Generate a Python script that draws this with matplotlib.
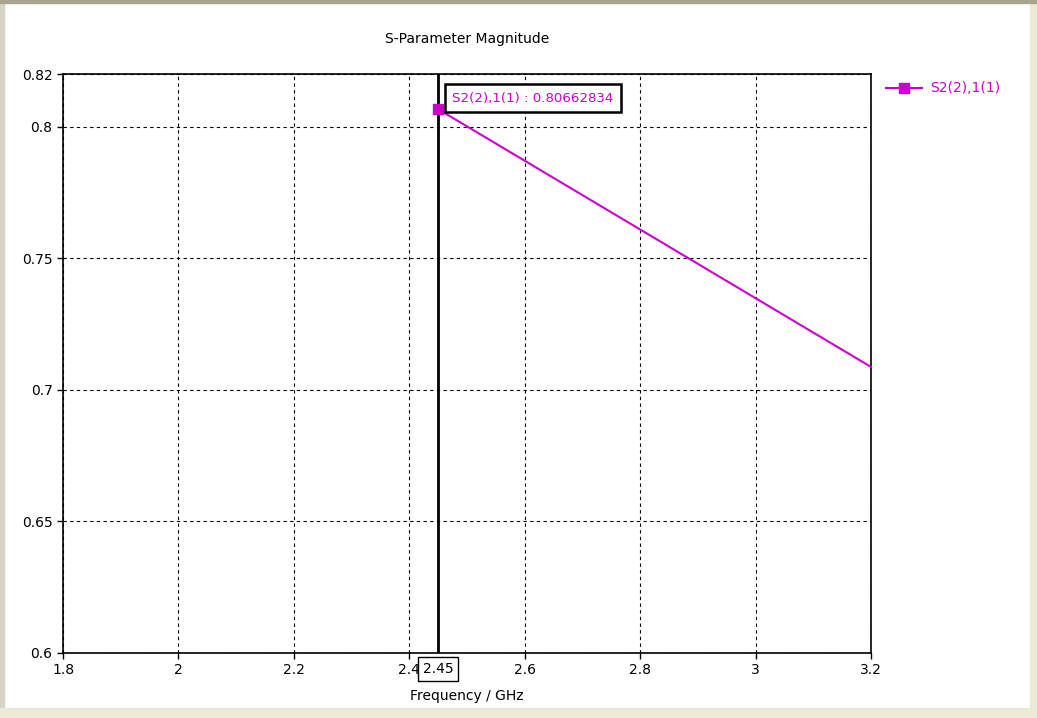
import matplotlib
matplotlib.use("Agg")
import matplotlib.pyplot as plt
from matplotlib.patches import Rectangle

freq = [2.45, 3.2]
s21 = [0.80662834, 0.7087]
marker_freq = 2.45
marker_val = 0.80662834
xticks = [1.8, 2.0, 2.2, 2.4, 2.6, 2.8, 3.0, 3.2]
xticklabels = ["1.8", "2", "2.2", "2.4", "2.6", "2.8", "3", "3.2"]
yticks = [0.6, 0.65, 0.7, 0.75, 0.8, 0.82]
yticklabels = ["0.6", "0.65", "0.7", "0.75", "0.8", "0.82"]

col = "#cc00cc"
plt.rcParams['font.family'] = ['DejaVu Sans']
fig = plt.figure(figsize=(10.37, 7.18), dpi=100, facecolor="white")
# window borders
fig.patches.append(Rectangle((0, 0), 4/1037, 1, transform=fig.transFigure, color="#d8d4c4", zorder=0))
fig.patches.append(Rectangle((1030/1037, 0), 7/1037, 1, transform=fig.transFigure, color="#ece9d8", zorder=0))
fig.patches.append(Rectangle((0, 0), 1, 10/718, transform=fig.transFigure, color="#ece9d8", zorder=0))
fig.patches.append(Rectangle((0, 715/718), 1, 3/718, transform=fig.transFigure, color="#a8a490", zorder=0))

ax = fig.add_axes([63/1037, 1-653/718, (871-63)/1037, (653-74)/718])
ax.set_xlim(1.8, 3.2)
ax.set_ylim(0.6, 0.82)
ax.set_xticks(xticks)
ax.set_xticklabels(xticklabels)
ax.set_yticks(yticks)
ax.set_yticklabels(yticklabels)
ax.grid(True, color="black", linestyle=(0, (3, 3)), linewidth=0.8)
for s in ax.spines.values():
    s.set_linewidth(1.2)
ax.tick_params(direction="out", length=4, labelsize=10, width=1)

ax.plot(freq, s21, color=col, linewidth=1.5, clip_on=False, zorder=3)
ax.axvline(marker_freq, color="black", linewidth=2, zorder=4)
ax.plot([marker_freq], [marker_val], marker="s", color=col, markersize=7, zorder=5, clip_on=False)
ax.annotate(f"S2(2),1(1) : {marker_val:.8f}", xy=(marker_freq, marker_val),
            xytext=(10, 8), textcoords="offset points", fontsize=9.6, color=col,
            va="center", ha="left",
            bbox=dict(boxstyle="square,pad=0.55", fc="white", ec="black", lw=1.8), zorder=6)
ax.annotate(f"{marker_freq}", xy=(marker_freq, 0.6), xytext=(0, -11.5), textcoords="offset points",
            ha="center", va="center", fontsize=10,
            bbox=dict(boxstyle="square,pad=0.35", fc="white", ec="black", lw=1), annotation_clip=False, zorder=6)

ax.set_xlabel("Frequency / GHz", fontsize=10, labelpad=8)
fig.text(467/1037, 1-39/718, "S-Parameter Magnitude", ha="center", va="center", fontsize=10)

# legend
fig.lines.append(plt.Line2D([886/1037, 922/1037], [1-88/718, 1-88/718], transform=fig.transFigure,
                            color=col, linewidth=1.5))
fig.lines.append(plt.Line2D([904/1037], [1-88/718], transform=fig.transFigure,
                            color=col, marker="s", markersize=7, linestyle="none"))
fig.text(930/1037, 1-88/718, "S2(2),1(1)", color=col, fontsize=10, va="center", ha="left")

fig.savefig("out.png", dpi=100, facecolor=fig.get_facecolor())
